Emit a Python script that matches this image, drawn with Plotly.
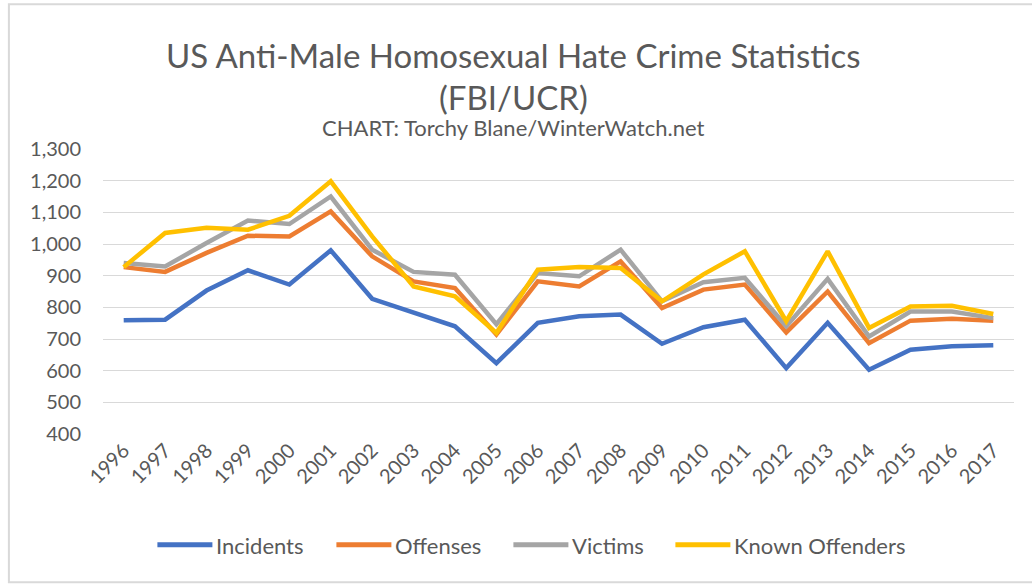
import plotly.graph_objects as go

years = list(range(1996, 2018))
incidents = [759, 761, 853, 917, 872, 980, 827, 784, 740, 624, 751, 772, 777, 685, 737,
             761, 608, 751, 603, 666, 677, 680]
offenses = [927, 912, 972, 1026, 1024, 1103, 961, 882, 861, 714, 882, 866, 945, 798, 856,
            872, 721, 850, 687, 758, 764, 758]
victims = [940, 929, 1003, 1074, 1063, 1150, 982, 912, 903, 747, 908, 898, 982, 819, 879,
           893, 740, 890, 708, 787, 787, 766]
known_offenders = [927, 1035, 1051, 1045, 1089, 1198, 1024, 866, 835, 719, 919, 927, 924, 819, 904,
                   977, 756, 977, 735, 803, 805, 779]
y_ticks = [400, 500, 600, 700, 800, 900, 1000, 1100, 1200, 1300]

series_names = ["Incidents", "Offenses", "Victims", "Known Offenders"]
series_values = [incidents, offenses, victims, known_offenders]
series_colors = ["#4472C4", "#ED7D31", "#A5A5A5", "#FFC000"]

W, H = 1032, 585
L, R, T, B = 102.6, 1013.6, 149.3, 434.3
FONT = "Lato"
GREY = "#595959"


def px2x(px):
    return (px - L) / (R - L)


def px2y(py):
    return (B - py) / (B - T)


fig = go.Figure()
for name, vals, color in zip(series_names, series_values, series_colors):
    fig.add_trace(go.Scatter(
        x=years, y=vals, mode="lines", name=name,
        line=dict(color=color, width=4.5), showlegend=False,
    ))

annotations = [
    dict(text="US Anti-Male Homosexual Hate Crime Statistics", x=px2x(513), y=px2y(55),
         xref="paper", yref="paper", showarrow=False, xanchor="center", yanchor="middle",
         font=dict(size=33, family=FONT, color=GREY)),
    dict(text="(FBI/UCR)", x=px2x(513), y=px2y(97),
         xref="paper", yref="paper", showarrow=False, xanchor="center", yanchor="middle",
         font=dict(size=33, family=FONT, color=GREY)),
    dict(text="CHART: Torchy Blane/WinterWatch.net", x=px2x(513), y=px2y(128),
         xref="paper", yref="paper", showarrow=False, xanchor="center", yanchor="middle",
         font=dict(size=22, family=FONT, color=GREY)),
]
shapes = [
    dict(type="rect", xref="paper", yref="paper",
         x0=px2x(8.5), x1=px2x(1045), y0=px2y(582.5), y1=px2y(4.5),
         line=dict(color="#D9D9D9", width=2), fillcolor="rgba(0,0,0,0)", layer="below"),
]

# custom legend (line sample + label), positioned like the reference
legend_line_x0 = [157, 336, 513, 675]
legend_y = 545
for name, color, lx in zip(series_names, series_colors, legend_line_x0):
    shapes.append(dict(type="line", xref="paper", yref="paper",
                       x0=px2x(lx), x1=px2x(lx + 55), y0=px2y(legend_y), y1=px2y(legend_y),
                       line=dict(color=color, width=5)))
    annotations.append(dict(text=name, x=px2x(lx + 57), y=px2y(legend_y + 1),
                            xref="paper", yref="paper", showarrow=False,
                            xanchor="left", yanchor="middle",
                            font=dict(size=22, family=FONT, color=GREY)))

fig.update_layout(
    width=W, height=H,
    margin=dict(l=L, r=W - R, t=T, b=H - B, autoexpand=False),
    paper_bgcolor="white", plot_bgcolor="white",
    font=dict(family=FONT, color=GREY),
    showlegend=False,
    xaxis=dict(
        range=[1995.5, 2017.5], tickmode="array", tickvals=years,
        ticktext=[str(y) for y in years], tickangle=-45,
        tickfont=dict(size=20, family=FONT, color=GREY),
        showgrid=False, zeroline=False, showline=False, ticks="",
        fixedrange=True,
    ),
    yaxis=dict(
        range=[400, 1300], tickmode="array", tickvals=y_ticks,
        ticktext=[f"{v:,}" for v in y_ticks],
        tickfont=dict(size=20, family=FONT, color=GREY),
        showgrid=True, gridcolor="#D9D9D9", gridwidth=1.3,
        zeroline=False, showline=False, ticks="", ticklabelstandoff=21,
        fixedrange=True,
    ),
    annotations=annotations,
    shapes=shapes,
)

fig.write_html("out.html", config={"displayModeBar": False},
               post_script="document.body.style.margin='0';document.body.style.padding='0';")
